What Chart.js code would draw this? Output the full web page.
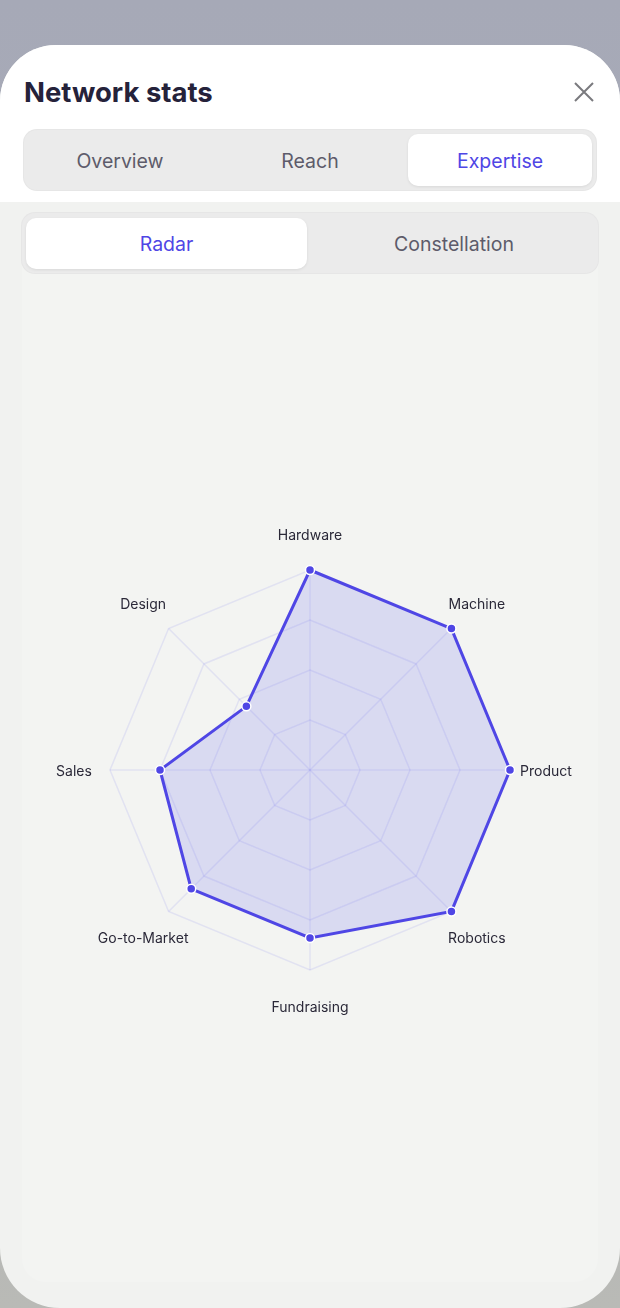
<!DOCTYPE html>
<html lang="en">
<head>
  <meta charset="UTF-8">
  <title>Network stats</title>
  <style>
    html, body {
      margin: 0;
      padding: 0;
    }
    body {
      width: 620px;
      height: 1308px;
      position: relative;
      overflow: hidden;
      background: linear-gradient(#a6a9b7 0, #abadb6 600px, #b9bab6 1308px);
      font-family: Inter, "Noto Sans", sans-serif;
    }
    .sheet {
      position: absolute;
      left: 0;
      top: 45px;
      width: 620px;
      height: 1263px;
      background: #f1f2f0;
      border-radius: 56px 56px 60px 60px;
      overflow: hidden;
    }
    .head {
      position: absolute;
      left: 0; top: 0;
      width: 620px;
      height: 157px;
      background: #fff;
    }
    .title {
      position: absolute;
      left: 24px;
      top: 30px;
      font-size: 27.5px;
      font-weight: 700;
      color: #25223a;
    }
    .close {
      position: absolute;
      left: 574px;
      top: 37px;
    }
    .tabs {
      position: absolute;
      background: #ebebeb;
      border-radius: 13px;
      box-shadow: 0 0 0 1px #e6e6e6;
    }
    .tab {
      position: absolute;
      text-align: center;
      font-size: 19.5px;
      color: #5d5b6a;
    }
    .tab.on {
      background: #fff;
      color: #4f46e5;
      border-radius: 10px;
      box-shadow: 0 1px 3px rgba(0,0,0,0.08);
    }
    .panel {
      position: absolute;
      left: 22px;
      top: 167px;
      width: 576px;
      height: 1070px;
      background: #f3f4f2;
      border-radius: 24px;
    }
    #radar {
      position: absolute;
      left: 0;
      top: 490px;
    }
  </style>
</head>
<body>
  <div class="sheet">
    <div class="head">
      <div class="title">Network stats</div>
      <svg class="close" width="20" height="20" viewBox="0 0 20 20">
        <path d="M1 1 L19 19 M19 1 L1 19" stroke="#7a7a7e" stroke-width="2" fill="none"/>
      </svg>
      <div class="tabs" style="left:24px; top:85px; width:572px; height:60px;">
        <div class="tab" style="left:0; top:1px; width:192px; line-height:60px;">Overview</div>
        <div class="tab" style="left:192px; top:1px; width:188px; line-height:60px;">Reach</div>
        <div class="tab on" style="left:384px; top:4px; width:184px; height:52px; line-height:54px;">Expertise</div>
      </div>
    </div>
    <div class="panel"></div>
    <div class="tabs" style="left:22px; top:168px; width:576px; height:60px;">
      <div class="tab on" style="left:4px; top:5px; width:281px; height:51px; line-height:53px;">Radar</div>
      <div class="tab" style="left:288px; top:1px; width:288px; line-height:60px;">Constellation</div>
    </div>
  </div>

  <canvas id="radar" width="620" height="560"></canvas>

  <script src="https://cdn.jsdelivr.net/npm/chart.js"></script>
  <script>
    const skills = ['Hardware', 'Machine', 'Product', 'Robotics', 'Fundraising', 'Go-to-Market', 'Sales', 'Design'];
    const scores = [100, 100, 100, 100, 84, 84, 75, 45];
    const scaleMax = 100;
    const scaleStep = 25;

    // labels centred on a ring just outside the grid
    const centredLabels = {
      id: 'centredLabels',
      afterDraw(chart) {
        const scale = chart.scales.r;
        const ctx = chart.ctx;
        ctx.save();
        ctx.font = '14px Inter, "Noto Sans", sans-serif';
        ctx.fillStyle = '#2a2838';
        ctx.textAlign = 'center';
        ctx.textBaseline = 'middle';
        skills.forEach((name, i) => {
          const p = scale.getPointPosition(i, scale.drawingArea + 36);
          ctx.fillText(name, p.x, p.y + 2);
        });
        ctx.restore();
      }
    };

    const ctx = document.getElementById('radar').getContext('2d');
    new Chart(ctx, {
      type: 'radar',
      data: {
        labels: skills,
        datasets: [{
          data: scores,
          borderColor: '#4f46e5',
          borderWidth: 3,
          backgroundColor: 'rgba(99, 102, 241, 0.18)',
          fill: true,
          pointRadius: 4.5,
          pointBackgroundColor: '#4f46e5',
          pointBorderColor: '#ffffff',
          pointBorderWidth: 1.5
        }]
      },
      options: {
        responsive: false,
        devicePixelRatio: 1,
        animation: false,
        layout: { padding: { left: 110, right: 110, top: 80, bottom: 80 } },
        plugins: { legend: { display: false }, tooltip: { enabled: false } },
        scales: {
          r: {
            min: 0,
            max: scaleMax,
            ticks: { display: false, stepSize: scaleStep },
            grid: { color: 'rgba(99, 102, 241, 0.12)', lineWidth: 1.5 },
            angleLines: { color: 'rgba(99, 102, 241, 0.12)', lineWidth: 1.5 },
            pointLabels: { display: false }
          }
        }
      },
      plugins: [centredLabels]
    });
  </script>
</body>
</html>
